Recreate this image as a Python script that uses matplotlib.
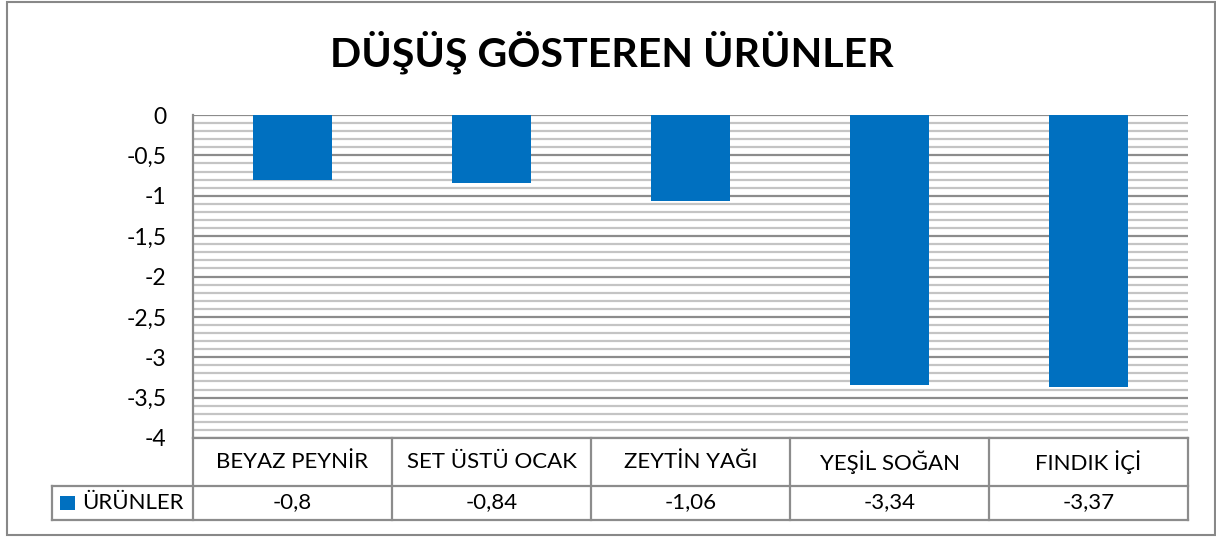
import matplotlib
matplotlib.use("Agg")
import matplotlib.pyplot as plt
from matplotlib.patches import Rectangle
from matplotlib.lines import Line2D
from matplotlib.ticker import MultipleLocator, FuncFormatter
import matplotlib.transforms as mtransforms

plt.rcParams['font.family'] = ['Lato', 'DejaVu Sans']

title = "DÜŞÜŞ GÖSTEREN ÜRÜNLER"
series_name = "ÜRÜNLER"
categories = ["BEYAZ PEYNİR", "SET ÜSTÜ OCAK", "ZEYTİN YAĞI", "YEŞİL SOĞAN", "FINDIK İÇİ"]
values = [-0.8, -0.84, -1.06, -3.34, -3.37]
value_labels = ["-0,8", "-0,84", "-1,06", "-3,34", "-3,37"]

W, H = 1216, 537
fig = plt.figure(figsize=(W / 100, H / 100), dpi=100)
fig.patch.set_facecolor("white")

def fx(px):
    return px / W

def fy(py):
    return 1 - py / H

# outer border
fig.add_artist(Rectangle((fx(6.5), fy(535)), fx(1214.5) - fx(6.5), fy(2) - fy(535),
                         transform=fig.transFigure, fill=False, edgecolor="#888888", lw=1.5))

left, right, top, bottom = 193, 1188, 115, 438
ax = fig.add_axes([fx(left), fy(bottom), fx(right) - fx(left), fy(top) - fy(bottom)])

x = list(range(len(categories)))
ax.bar(x, values, width=0.4, color="#0070C0", zorder=3)
ax.set_xlim(-0.5, len(categories) - 0.5)
ax.set_ylim(-4, 0)
ax.yaxis.set_major_locator(MultipleLocator(0.5))
ax.yaxis.set_minor_locator(MultipleLocator(0.1))
ax.yaxis.set_major_formatter(FuncFormatter(lambda v, p: ("%g" % v).replace(".", ",") if abs(v) > 1e-9 else "0"))
ax.grid(which="major", axis="y", color="#8c8c8c", lw=1.6, zorder=1)
ax.grid(which="minor", axis="y", color="#c4c4c4", lw=1.6, zorder=1)
ax.tick_params(axis="y", which="both", length=0, labelsize=16.5, pad=19, labelcolor="black")
ax.tick_params(axis="x", which="both", length=0, labelbottom=False)
for s in ["top", "right", "bottom"]:
    ax.spines[s].set_visible(False)
ax.spines["left"].set_color("#8c8c8c")
ax.spines["left"].set_linewidth(1.6)
ax.set_facecolor("white")

# title
fig.text(fx(612), fy(52), title, ha="center", va="center", fontsize=29.6, fontweight="bold")

# data table
trans = mtransforms.blended_transform_factory(ax.transData, fig.transFigure)
tcol = "#8c8c8c"
row1, row2, row3 = fy(438), fy(486), fy(520)
legend_left = fx(52)
axleft = fx(left)

fig.add_artist(Line2D([axleft, fx(right)], [row1, row1], transform=fig.transFigure, color=tcol, lw=1.6))
fig.add_artist(Line2D([legend_left, fx(right)], [row2, row2], transform=fig.transFigure, color=tcol, lw=1.6))
fig.add_artist(Line2D([legend_left, fx(right)], [row3, row3], transform=fig.transFigure, color=tcol, lw=1.6))
fig.add_artist(Line2D([legend_left, legend_left], [row2, row3], transform=fig.transFigure, color=tcol, lw=1.6))
fig.add_artist(Line2D([axleft, axleft], [row1, row3], transform=fig.transFigure, color=tcol, lw=1.6))
for i in range(len(categories)):
    xb = i + 0.5
    fig.add_artist(Line2D([xb, xb], [row1, row3], transform=trans, color=tcol, lw=1.6))

for i, (c, vl) in enumerate(zip(categories, value_labels)):
    fig.text(i, (row1 + row2) / 2, c, transform=trans, ha="center", va="center", fontsize=16)
    fig.text(i, (row2 + row3) / 2 + 0.001, vl, transform=trans, ha="center", va="center", fontsize=16)

# legend key
fig.add_artist(Rectangle((fx(60), fy(510)), fx(15), fy(496) - fy(510), transform=fig.transFigure,
                         facecolor="#0070C0", edgecolor="none"))
fig.text(fx(82), (row2 + row3) / 2, series_name, ha="left", va="center", fontsize=16)

fig.savefig("out.png", dpi=100, facecolor="white")
